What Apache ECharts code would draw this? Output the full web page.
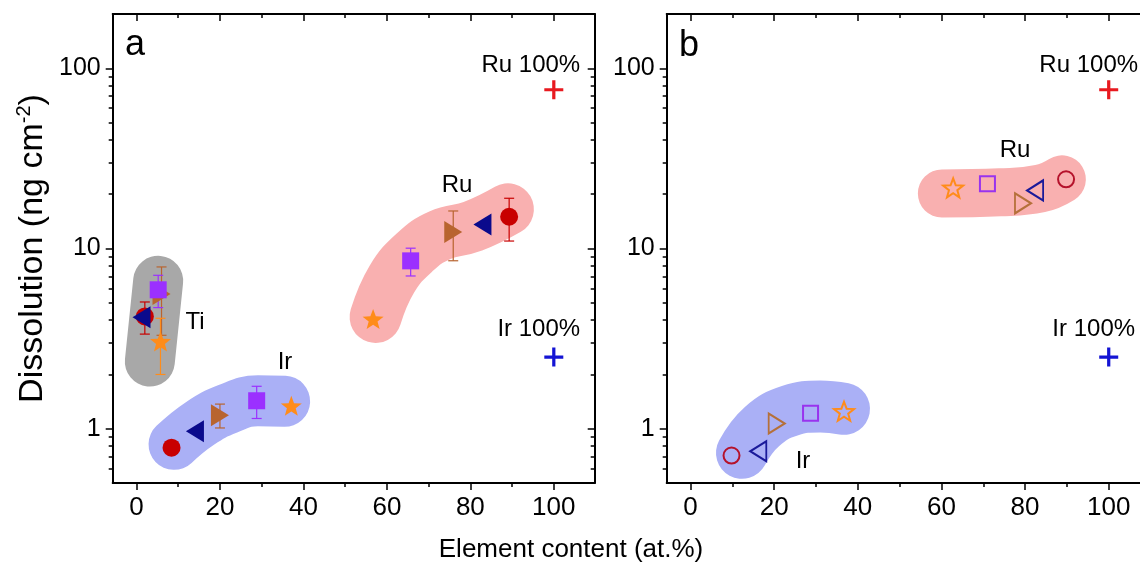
<!DOCTYPE html>
<html><head><meta charset="utf-8">
<script src="https://cdn.jsdelivr.net/npm/echarts@6/dist/echarts.min.js"></script>
<style>html,body{margin:0;padding:0;background:#fff}#c{width:1140px;height:571px}</style>
</head><body><div id="c"></div>
<script>
// ---------- tick values ----------
const xTicks = [0, 20, 40, 60, 80, 100];
const xMinor = [10, 30, 50, 70, 90];
const yTicks = [1, 10, 100];
const yMinor = [0.6, 0.7, 0.8, 0.9, 2, 3, 4, 5, 6, 7, 8, 9, 20, 30, 40, 50, 60, 70, 80, 90];

// ---------- panel a (filled markers, with error bars) ----------
const aCircle = [[2.0, 4.2], [8.4, 0.785], [89.3, 15.0]];
const aCircleErr = [0.85, 0, 4.0];
const aLeftTri = [[1.2, 4.15], [14.0, 0.97], [82.9, 13.6]];
const aLeftTriErr = [0, 0, 0];
const aRightTri = [[6.0, 5.6], [20.0, 1.19], [75.9, 12.35]];
const aRightTriErr = [2.3, 0.18, 3.8];
const aSquare = [[5.2, 5.9], [28.8, 1.43], [65.7, 8.54]];
const aSquareErr = [1.2, 0.29, 1.5];
const aStar = [[5.75, 3.05], [37.1, 1.34], [56.7, 4.06]];
const aStarErr = [1.05, 0, 0];

// ---------- panel b (open markers) ----------
const bCircle = [[9.8, 0.71], [89.8, 24.2]];
const bLeftTri = [[16.2, 0.75], [82.4, 21.0]];
const bRightTri = [[20.6, 1.07], [79.5, 17.8]];
const bSquare = [[28.7, 1.22], [71.0, 22.9]];
const bStar = [[36.7, 1.25], [62.8, 21.7]];

// ---------- pure metals ----------
const ruPure = [[100, 76]];
const irPure = [[100, 2.5]];

// ---------- shaded group outlines (centre paths) ----------
const aTiBlob = [[5.2, 6.62], [3.2, 2.36]];
const aIrBlob = [[9.0, 0.819], [15.2, 1.07], [21.9, 1.29], [29.1, 1.43], [35.5, 1.42]];
const aRuBlob = [[57.3, 4.17], [61.2, 6.76], [66.7, 9.54], [72.7, 11.85], [80.6, 13.28], [89.0, 16.5]];
const bRuBlob = [[60.1, 20.2], [74.0, 20.5], [83.6, 21.5], [88.8, 24.2]];
const bIrBlob = [[12.3, 0.735], [17.1, 1.03], [23.8, 1.26], [31.0, 1.33], [36.7, 1.29]];

// ---------- styling ----------
const FONT = '"Liberation Sans", Arial, sans-serif';
const XMIN = -5.7, XMAX = 109.8, YMIN = 0.5, YMAX = 200;
const C = { circle: '#c80000', left: '#0a0a8c', right: '#b8642f', square: '#9b30ff', star: '#ff8c1a' };
const CB = { circle: '#b5122b', left: '#1a1a9a', right: '#b5703a', square: '#9933ee', star: '#ff8c1a' };

function starPath() {
  const pts = [];
  for (let i = 0; i < 10; i++) {
    const r = i % 2 ? 0.42 : 1;
    const a = -Math.PI / 2 + i * Math.PI / 5;
    pts.push((r * Math.cos(a)).toFixed(4) + ',' + (r * Math.sin(a)).toFixed(4));
  }
  return 'path://M' + pts.join(' L') + ' Z';
}
const STAR = starPath();
const LTRI = 'path://M0,0.5 L1,0 L1,1 Z';
const RTRI = 'path://M1,0.5 L0,0 L0,1 Z';
const PLUS = 'path://M-0.085,-0.5 L0.085,-0.5 L0.085,-0.085 L0.5,-0.085 L0.5,0.085 L0.085,0.085 L0.085,0.5 L-0.085,0.5 L-0.085,0.085 L-0.5,0.085 L-0.5,-0.085 L-0.085,-0.085 Z';

function xAx(g, pos, vals, len, inside, showLine, showLabel) {
  return {
    type: 'value', gridIndex: g, position: pos, min: XMIN, max: XMAX,
    axisLine: { show: showLine, onZero: false, lineStyle: { color: '#000', width: 2 } },
    axisTick: { show: true, inside: inside, length: len, customValues: vals, lineStyle: { color: '#000', width: 1.5 } },
    axisLabel: showLabel ? { show: true, customValues: vals, margin: 12, fontSize: 26, color: '#000', fontFamily: FONT } : { show: false },
    splitLine: { show: false }, minorTick: { show: false }
  };
}
function yAx(g, pos, vals, len, inside, showLine, showLabel, extra) {
  return Object.assign({
    type: 'log', logBase: 10, gridIndex: g, position: pos, min: YMIN, max: YMAX,
    axisLine: { show: showLine, onZero: false, lineStyle: { color: '#000', width: 2 } },
    axisTick: { show: true, inside: inside, length: len, customValues: vals, lineStyle: { color: '#000', width: 1.5 } },
    axisLabel: showLabel ? { show: true, customValues: vals, margin: 12, fontSize: 25, color: '#000', fontFamily: FONT, formatter: v => String(v) } : { show: false },
    splitLine: { show: false }, minorTick: { show: false }
  }, extra || {});
}

const xAxes = [], yAxes = [];
for (let g = 0; g < 2; g++) {
  xAxes.push(xAx(g, 'bottom', xTicks, 7, false, true, true));
  xAxes.push(xAx(g, 'bottom', xMinor, 4, false, false, false));
  xAxes.push(xAx(g, 'top', xTicks, 7, true, true, false));
  xAxes.push(xAx(g, 'top', xMinor, 4, true, false, false));
  const nameOpt = g === 0 ? {
    name: 'Dissolution (ng cm{sup|-2})', nameLocation: 'middle', nameGap: 62,
    nameTextStyle: { fontSize: 34, color: '#000', fontFamily: FONT,
      rich: { sup: { fontSize: 20, color: '#000', fontFamily: FONT, verticalAlign: 'top', padding: [0, 0, 16, 0] } } }
  } : {};
  yAxes.push(yAx(g, 'left', yTicks, 7, false, true, true, nameOpt));
  yAxes.push(yAx(g, 'left', yMinor, 4, false, false, false));
  yAxes.push(yAx(g, 'right', yTicks, 7, true, true, false));
  yAxes.push(yAx(g, 'right', yMinor, 4, true, false, false));
}

function blob(data, color, width, g) {
  return { type: 'line', xAxisIndex: g * 4, yAxisIndex: g * 4, data: data, smooth: 0.45, symbol: 'none', silent: true, z: 1,
    lineStyle: { color: color, width: width, cap: 'round', join: 'round' } };
}
function errBars(pts, errs, color, g) {
  return { type: 'custom', xAxisIndex: g * 4, yAxisIndex: g * 4, z: 2, silent: true,
    data: pts.map((p, i) => [p[0], p[1], errs[i]]).filter(d => d[2] > 0),
    renderItem: (params, api) => {
      const x = api.value(0), y = api.value(1), e = api.value(2);
      const t = api.coord([x, y + e]), b = api.coord([x, y - e]), w = 5;
      const st = { stroke: color, lineWidth: 1.2 };
      return { type: 'group', children: [
        { type: 'line', shape: { x1: t[0], y1: t[1], x2: b[0], y2: b[1] }, style: st },
        { type: 'line', shape: { x1: t[0] - w, y1: t[1], x2: t[0] + w, y2: t[1] }, style: st },
        { type: 'line', shape: { x1: b[0] - w, y1: b[1], x2: b[0] + w, y2: b[1] }, style: st }
      ] };
    } };
}
function filled(data, symbol, size, color, g, z) {
  return { type: 'scatter', xAxisIndex: g * 4, yAxisIndex: g * 4, data: data, symbol: symbol, symbolSize: size,
    symbolKeepAspect: symbol === STAR, z: z, silent: true, itemStyle: { color: color, opacity: 1 } };
}
function open(data, symbol, size, color, g, z) {
  return { type: 'scatter', xAxisIndex: g * 4, yAxisIndex: g * 4, data: data, symbol: symbol, symbolSize: size,
    symbolKeepAspect: symbol === STAR, z: z, silent: true,
    itemStyle: { color: 'rgba(0,0,0,0)', borderColor: color, borderWidth: 2, opacity: 1 } };
}
function pure(data, color, text, offset, g) {
  return { type: 'scatter', xAxisIndex: g * 4, yAxisIndex: g * 4, data: data, symbol: PLUS, symbolSize: 19, z: 5, silent: true,
    itemStyle: { color: color, opacity: 1 },
    label: { show: true, formatter: text, position: 'inside', offset: offset, fontSize: 24, color: '#000', opacity: 1, fontFamily: FONT } };
}

const series = [
  blob(aTiBlob, '#a8a8a8', 50, 0),
  blob(aIrBlob, '#aab0f6', 51, 0),
  blob(aRuBlob, '#f9b0b0', 52, 0),
  blob(bRuBlob, '#f9b0b0', 48, 1),
  blob(bIrBlob, '#aab0f6', 52, 1),
  errBars(aCircle, aCircleErr, C.circle, 0),
  errBars(aRightTri, aRightTriErr, C.right, 0),
  errBars(aSquare, aSquareErr, C.square, 0),
  errBars(aLeftTri, aLeftTriErr, C.left, 0),
  errBars(aStar, aStarErr, C.star, 0),
  filled(aCircle, 'circle', 18, C.circle, 0, 3),
  filled(aRightTri, RTRI, [18, 22], C.right, 0, 3),
  filled(aSquare, 'rect', 17, C.square, 0, 3),
  filled(aLeftTri, LTRI, [18, 22], C.left, 0, 3),
  filled(aStar, STAR, 21, C.star, 0, 3),
  open(bCircle, 'circle', 16, CB.circle, 1, 3),
  open(bLeftTri, LTRI, [16, 20], CB.left, 1, 3),
  open(bRightTri, RTRI, [16, 20], CB.right, 1, 3),
  open(bSquare, 'rect', 15, CB.square, 1, 3),
  open(bStar, STAR, 20, CB.star, 1, 3),
  pure(ruPure, '#e8191f', 'Ru 100%', [-23, -24], 0),
  pure(irPure, '#1414d4', 'Ir 100%', [-15, -28], 0),
  pure(ruPure, '#e8191f', 'Ru 100%', [-20, -24], 1),
  pure(irPure, '#1414d4', 'Ir 100%', [-15, -28], 1)
];

function txt(x, y, s, size) {
  return { type: 'text', x: x, y: y, silent: true,
    style: { text: s, fill: '#000', fontSize: size, fontFamily: FONT, align: 'center', verticalAlign: 'middle' } };
}

const option = {
  backgroundColor: '#fff',
  animation: false,
  grid: [
    { left: 112.7, top: 14, width: 482, height: 469, outerBoundsMode: 'none', containLabel: false },
    { left: 666.7, top: 14, width: 483, height: 469, outerBoundsMode: 'none', containLabel: false }
  ],
  xAxis: xAxes,
  yAxis: yAxes,
  series: series,
  graphic: [
    txt(135, 45, 'a', 36), txt(689, 46, 'b', 36),
    txt(195, 322, 'Ti', 24), txt(285, 362, 'Ir', 24), txt(457, 185, 'Ru', 24),
    txt(1015, 150, 'Ru', 24), txt(803, 461, 'Ir', 24),
    txt(571, 550, 'Element content (at.%)', 26)
  ]
};
const chart = echarts.init(document.getElementById('c'), null, { renderer: 'canvas' });
chart.setOption(option);
</script></body></html>
